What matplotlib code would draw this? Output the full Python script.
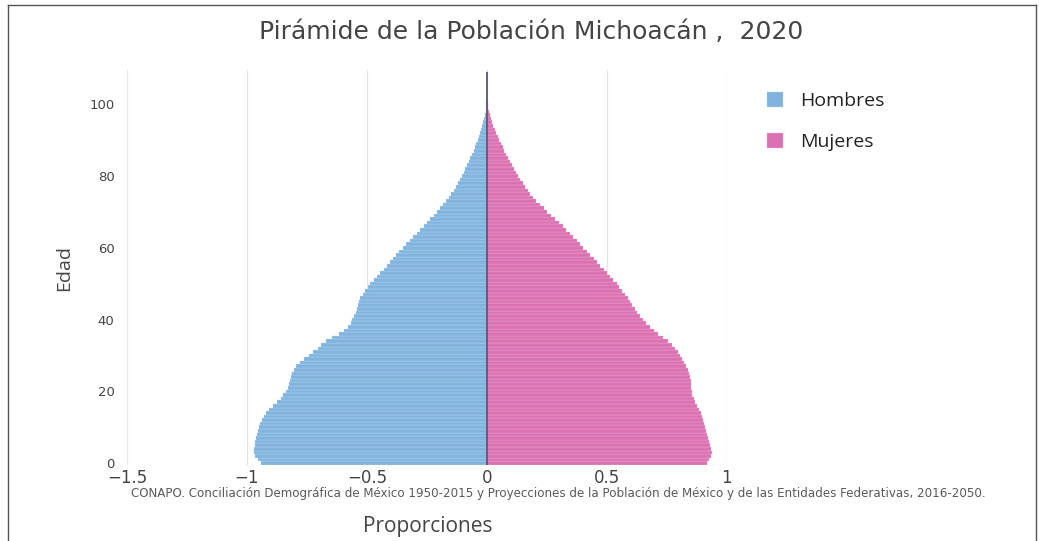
"""Pirámide de la Población Michoacán, 2020 - recreación."""

import numpy as np
import matplotlib
matplotlib.use('Agg')
import matplotlib.pyplot as plt
from matplotlib.lines import Line2D

# edades 0..109
edades = list(range(110))

# proporciones hombres (lado izquierdo, negativo)
hombres = [
    -0.940, -0.955, -0.965, -0.970, -0.970, -0.968, -0.965, -0.962, -0.958, -0.955,
    -0.950, -0.945, -0.938, -0.930, -0.920, -0.910, -0.893, -0.875, -0.860, -0.848,
    -0.838, -0.830, -0.824, -0.820, -0.815, -0.810, -0.805, -0.795, -0.780, -0.760,
    -0.740, -0.725, -0.705, -0.690, -0.670, -0.645, -0.615, -0.595, -0.578, -0.568,
    -0.560, -0.552, -0.546, -0.540, -0.536, -0.533, -0.527, -0.518, -0.508, -0.497,
    -0.485, -0.472, -0.458, -0.444, -0.430, -0.417, -0.404, -0.392, -0.380, -0.365,
    -0.351, -0.336, -0.322, -0.307, -0.292, -0.278, -0.263, -0.249, -0.235, -0.222,
    -0.208, -0.195, -0.182, -0.170, -0.158, -0.148, -0.138, -0.129, -0.120, -0.112,
    -0.104, -0.096, -0.089, -0.082, -0.075, -0.068, -0.061, -0.055, -0.049, -0.043,
    -0.037, -0.032, -0.027, -0.022, -0.018, -0.014, -0.010, -0.007, -0.005, -0.003,
    -0.002, -0.0015, -0.001, -0.0008, -0.0006, -0.0005, -0.0004, -0.0003, -0.0002, -0.0001,
]

# proporciones mujeres (lado derecho)
mujeres = [
    0.920, 0.928, 0.934, 0.937, 0.935, 0.931, 0.926, 0.921, 0.917, 0.913,
    0.909, 0.905, 0.902, 0.897, 0.892, 0.884, 0.875, 0.868, 0.862, 0.857,
    0.855, 0.853, 0.852, 0.851, 0.848, 0.844, 0.839, 0.832, 0.824, 0.815,
    0.806, 0.796, 0.785, 0.772, 0.755, 0.735, 0.715, 0.698, 0.680, 0.665,
    0.650, 0.637, 0.626, 0.616, 0.606, 0.597, 0.587, 0.576, 0.565, 0.553,
    0.541, 0.528, 0.515, 0.501, 0.487, 0.473, 0.458, 0.445, 0.431, 0.417,
    0.403, 0.389, 0.375, 0.361, 0.346, 0.331, 0.316, 0.301, 0.285, 0.269,
    0.253, 0.237, 0.221, 0.207, 0.194, 0.181, 0.170, 0.159, 0.149, 0.139,
    0.130, 0.121, 0.113, 0.104, 0.096, 0.088, 0.080, 0.073, 0.066, 0.059,
    0.052, 0.046, 0.040, 0.034, 0.028, 0.022, 0.017, 0.012, 0.009, 0.006,
    0.004, 0.003, 0.002, 0.0015, 0.001, 0.0008, 0.0006, 0.0004, 0.0003, 0.0002,
]

xticks = [-1.5, -1, -0.5, 0, 0.5, 1]
xticklabels = ['\u22121.5', '\u22121', '\u22120.5', '0', '0.5', '1']
yticks = [0, 20, 40, 60, 80, 100]

c_hom = '#80b4df'
c_muj = '#db71b1'
gris = '#444444'

fig = plt.figure(figsize=(10.41, 5.41), dpi=100)
ax = fig.add_axes([0.122, 0.1405, 0.576, 0.730])

ax.barh(edades, hombres, height=1.0, color=c_hom, edgecolor='#c4dbef',
        linewidth=0.25, label='Hombres', zorder=2)
ax.barh(edades, mujeres, height=1.0, color=c_muj, edgecolor='#eab3d3',
        linewidth=0.25, label='Mujeres', zorder=2)
ax.vlines(0, edades[0] - 0.5, edades[-1], color='#5c5872', linewidth=1.3, zorder=3)

ax.set_xlim(-1.5, 1.0)
ax.set_ylim(-0.5, 109.5)
ax.set_xticks(xticks)
ax.set_xticklabels(xticklabels)
ax.set_yticks(yticks)
ax.tick_params(length=0, labelcolor=gris)
ax.tick_params(axis='x', labelsize=12, pad=3)
ax.tick_params(axis='y', labelsize=9.5, pad=9)
ax.grid(axis='x', color='#e6e6e6', linewidth=0.9, zorder=0)
ax.set_axisbelow(True)
for s in ax.spines.values():
    s.set_visible(False)

ax.set_ylabel('Edad', fontsize=14, color=gris, family='Open Sans')
ax.yaxis.set_label_coords(-0.09, 0.5)
ax.set_xlabel('Proporciones', fontsize=15, color=gris, family='Open Sans')
ax.xaxis.set_label_coords(0.502, -0.13)

fig.text(0.51, 0.94, 'Pirámide de la Población Michoacán ,  2020',
         ha='center', va='center', fontsize=18, color=gris, family='DejaVu Sans')

fig.text(0.126, 0.088,
         'CONAPO. Conciliación Demográfica de México 1950-2015 y Proyecciones de la '
         'Población de México y de las Entidades Federativas, 2016-2050.',
         ha='left', va='center', fontsize=8.6, color='#5a5a5a')

fig.legend(loc='upper left', bbox_to_anchor=(0.727, 0.848), frameon=False,
           prop={'family': 'Open Sans', 'size': 14}, labelcolor='#222222',
           handlelength=0.85, handleheight=0.85, handletextpad=0.9,
           labelspacing=1.15, borderpad=0)

# marco
for xs, ys in [([0.008, 0.008], [0.0, 0.991]), ([0.008, 0.995], [0.991, 0.991]),
               ([0.995, 0.995], [0.0, 0.991])]:
    fig.add_artist(Line2D(xs, ys, color='#555555', linewidth=1.0))

fig.savefig('out.png', dpi=100)
